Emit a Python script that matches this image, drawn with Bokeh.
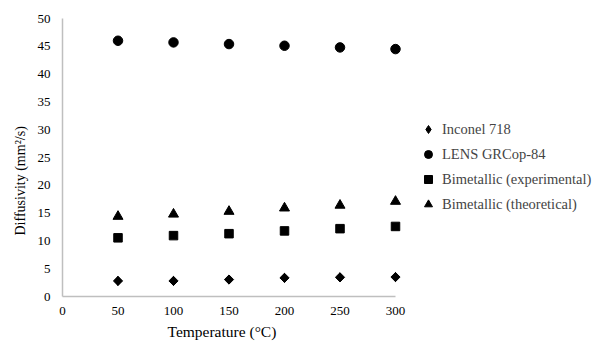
import math
from bokeh.plotting import figure
from bokeh.models import Legend, LegendItem, FixedTicker, Range1d, Title
from bokeh.embed import file_html
from bokeh.resources import INLINE

temperature = [50, 100, 150, 200, 250, 300]
inconel_718 = [2.8, 2.8, 3.05, 3.35, 3.45, 3.5]
lens_grcop84 = [46.0, 45.7, 45.4, 45.1, 44.8, 44.5]
bimetallic_exp = [10.55, 10.95, 11.3, 11.8, 12.2, 12.6]
bimetallic_theo = [14.4, 14.8, 15.3, 15.9, 16.4, 17.1]

x_ticks = [0, 50, 100, 150, 200, 250, 300]
y_ticks = [0, 5, 10, 15, 20, 25, 30, 35, 40, 45, 50]

FONT = "Liberation Serif"

W, H = 594, 349
LEFT, TOP, BOTTOM = 62, 18, 53
AXIS_PX = 333.0  # pixels spanned by 0..300
frame_w = W - LEFT
x_end = 300 * frame_w / AXIS_PX

p = figure(width=W, height=H, output_backend="svg", toolbar_location=None,
           x_range=Range1d(0, x_end), y_range=Range1d(0, 50),
           min_border_left=LEFT, min_border_right=0, min_border_top=TOP,
           min_border_bottom=BOTTOM)
p.outline_line_color = None
p.xgrid.grid_line_color = None
p.ygrid.grid_line_color = None

# diamond key (used by the legend), covered by the wider rotated-square marker
r1_key = p.scatter(temperature, inconel_718, marker="diamond", size=9, color="black")
r1 = p.scatter(temperature, inconel_718, marker="square", angle=math.pi / 4,
               size=6.5, color="black")
r2 = p.scatter(temperature, lens_grcop84, marker="circle", size=9.5, color="black")
r3 = p.scatter(temperature, bimetallic_exp, marker="square", size=8.5, color="black")
r4 = p.scatter(temperature, bimetallic_theo, marker="triangle", size=10, color="black")

for ax in (p.xaxis[0], p.yaxis[0]):
    ax.axis_line_color = "#bfbfbf"
    ax.axis_line_width = 1.5
    ax.major_tick_line_color = None
    ax.minor_tick_line_color = None
    ax.major_tick_out = 0
    ax.major_tick_in = 0
    ax.major_label_text_font = FONT
    ax.major_label_text_font_size = "13px"
    ax.major_label_text_color = "black"

p.xaxis.bounds = (0, 300)
p.xaxis.ticker = FixedTicker(ticks=x_ticks)
p.yaxis.ticker = FixedTicker(ticks=y_ticks)
p.xaxis.major_label_standoff = 10
p.yaxis.major_label_standoff = 12

xt = Title(text="Temperature (°C)", align="left", offset=105, text_font=FONT,
           text_font_size="15.5px", text_font_style="normal", text_color="black",
           standoff=7)
p.add_layout(xt, "below")
yt = Title(text="Diffusivity (mm²/s)", align="left", offset=61, text_font=FONT,
           text_font_size="14px", text_font_style="normal", text_color="black",
           standoff=14)
p.add_layout(yt, "left")

legend = Legend(items=[
    LegendItem(label="Inconel 718", renderers=[r1_key]),
    LegendItem(label="LENS GRCop-84", renderers=[r2]),
    LegendItem(label="Bimetallic (experimental)", renderers=[r3]),
    LegendItem(label="Bimetallic (theoretical)", renderers=[r4]),
], location=(356, 82), label_text_font=FONT, label_text_font_size="14.5px",
   glyph_width=20, glyph_height=20, label_standoff=4, spacing=5,
   padding=0, margin=0, border_line_color=None, background_fill_alpha=0)
p.add_layout(legend, "center")

open("out.html", "w").write(file_html(p, INLINE))
